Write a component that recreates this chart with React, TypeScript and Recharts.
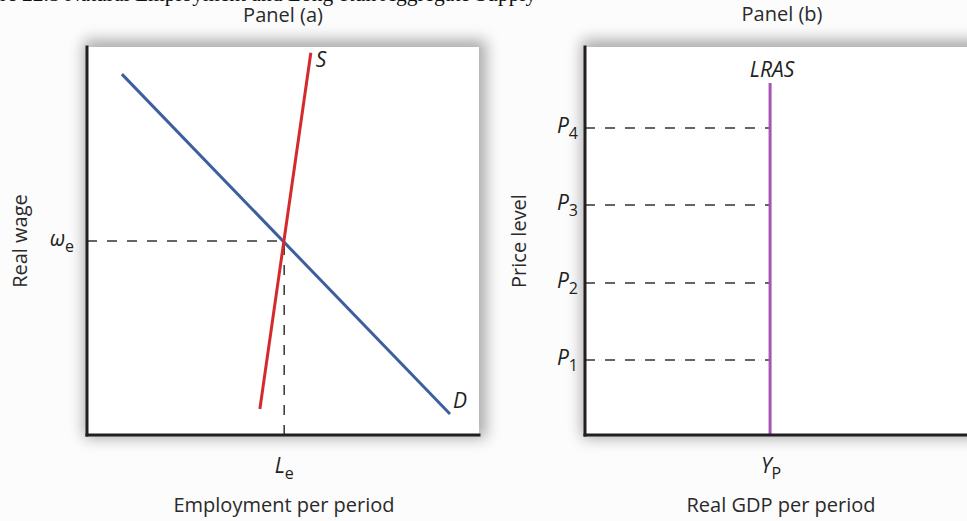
import { LineChart, Line, XAxis, YAxis, ReferenceLine } from 'recharts';

// Panel (a): labour market, values on a 0–100 scale
const demandCurve = [
  { x: 8.9, y: 93.0 },
  { x: 92.6, y: 5.4 },
];
const supplyCurve = [
  { x: 44.1, y: 6.7 },
  { x: 57.1, y: 98.5 },
];
const wageEq = 50;
const employmentEq = 50.3;

// Panel (b): long-run aggregate supply
const priceLevels = [19.3, 39.2, 59.3, 79.1];
const priceSubs = ['1', '2', '3', '4'];
const potentialGdp = 45.7;
const lrasTop = 90.7;
const lrasCurve = [
  { x: potentialGdp, y: 0 },
  { x: potentialGdp, y: lrasTop },
];

const ink = '#231f20';
const sans = '"Open Sans", "Noto Sans", sans-serif';
const axisStyle = { stroke: ink, strokeWidth: 3, strokeLinecap: 'square' as const };
const dashStyle = { stroke: '#333', strokeWidth: 1.5, strokeDasharray: '10 10' };

const curveLabel = (text: string, dx: number, dy: number, anchor: 'start' | 'middle', size: number) =>
  (props: any) => {
    if (props.index !== 1) return <g />;
    return (
      <text
        x={props.x + dx}
        y={props.y + dy}
        textAnchor={anchor}
        fontFamily={sans}
        fontStyle="italic"
        fontSize={size}
        fill={ink}
      >
        {text}
      </text>
    );
  };

const subText = (main: string, sub: string, x: number, y: number, anchor: 'end' | 'middle') => (
  <text x={x} y={y} textAnchor={anchor} fontFamily={sans} fill={ink}>
    <tspan fontSize={21} fontStyle="italic">{main}</tspan>
    <tspan fontSize={16} dy={6}>{sub}</tspan>
  </text>
);

function ShadowBox({ left, width }: { left: number; width: number }) {
  return (
    <div
      style={{
        position: 'absolute',
        left,
        top: 47,
        width,
        height: 388,
        background: '#fff',
        boxShadow: '2px -2px 14px 5px rgba(0,0,0,0.33)',
      }}
    />
  );
}

function Caption({ text, x, top }: { text: string; x: number; top: number }) {
  return (
    <div
      style={{
        position: 'absolute',
        left: x,
        top,
        transform: 'translateX(-50%)',
        fontFamily: sans,
        fontSize: 20,
        lineHeight: '20px',
        color: '#2a2a2a',
        whiteSpace: 'nowrap',
      }}
    >
      {text}
    </div>
  );
}

function SideCaption({ text, x }: { text: string; x: number }) {
  return (
    <div
      style={{
        position: 'absolute',
        left: x,
        top: 241,
        transform: 'translate(-50%, -50%) rotate(-90deg)',
        fontFamily: sans,
        fontSize: 20,
        lineHeight: '20px',
        color: '#2a2a2a',
        whiteSpace: 'nowrap',
      }}
    >
      {text}
    </div>
  );
}

export default function App() {
  return (
    <div
      style={{
        position: 'absolute',
        left: 0,
        top: 0,
        width: 967,
        height: 521,
        overflow: 'hidden',
        background: '#fcfcfc',
      }}
    >
      <div
        style={{
          position: 'absolute',
          left: 0,
          top: -16,
          fontFamily: '"Liberation Serif", serif',
          fontSize: 21.5,
          lineHeight: '21px',
          color: '#111',
          whiteSpace: 'nowrap',
        }}
      >
        re 22.5 Natural Employment and Long-Run Aggregate Supply
      </div>

      <ShadowBox left={87} width={392} />
      <ShadowBox left={585} width={420} />

      <Caption text="Panel (a)" x={283} top={5} />
      <Caption text="Panel (b)" x={782} top={4} />
      <Caption text="Employment per period" x={284} top={495} />
      <Caption text="Real GDP per period" x={781} top={495} />
      <SideCaption text="Real wage" x={20} />
      <SideCaption text="Price level" x={519} />

      <div style={{ position: 'absolute', left: 0, top: 0 }}>
        <LineChart width={490} height={521} margin={{ top: 47, right: 11, bottom: 56, left: 47 }}>
          <XAxis
            type="number"
            dataKey="x"
            domain={[0, 100]}
            allowDataOverflow
            ticks={[employmentEq]}
            tickLine={false}
            tickSize={0}
            tickMargin={0}
            axisLine={axisStyle}
            height={30}
            tick={(p: any) => subText('L', 'e', p.x, p.y + 38, 'middle')}
          />
          <YAxis
            type="number"
            dataKey="y"
            domain={[0, 100]}
            allowDataOverflow
            ticks={[wageEq]}
            tickLine={false}
            tickSize={0}
            tickMargin={0}
            axisLine={axisStyle}
            width={40}
            tick={(p: any) => subText('ω', 'e', p.x - 13, p.y + 5, 'end')}
          />
          <ReferenceLine segment={[{ x: 0, y: wageEq }, { x: employmentEq, y: wageEq }]} {...dashStyle} />
          <ReferenceLine segment={[{ x: employmentEq, y: 0 }, { x: employmentEq, y: wageEq }]} {...dashStyle} />
          <Line
            data={demandCurve}
            dataKey="y"
            stroke="#3d5e9f"
            strokeWidth={3}
            dot={false}
            isAnimationActive={false}
            label={curveLabel('D', 3, -6, 'start', 21)}
          />
          <Line
            data={supplyCurve}
            dataKey="y"
            stroke="#d52a2c"
            strokeWidth={3}
            dot={false}
            isAnimationActive={false}
            label={curveLabel('S', 5, 14, 'start', 21)}
          />
        </LineChart>
      </div>

      <div style={{ position: 'absolute', left: 490, top: 0 }}>
        <LineChart width={500} height={521} margin={{ top: 47, right: 0, bottom: 56, left: 55 }}>
          <XAxis
            type="number"
            dataKey="x"
            domain={[0, 100]}
            allowDataOverflow
            ticks={[potentialGdp]}
            tickLine={false}
            tickSize={0}
            tickMargin={0}
            axisLine={axisStyle}
            height={30}
            tick={(p: any) => subText('Y', 'P', p.x + 1, p.y + 38, 'middle')}
          />
          <YAxis
            type="number"
            dataKey="y"
            domain={[0, 100]}
            allowDataOverflow
            ticks={priceLevels}
            tickLine={false}
            tickSize={0}
            tickMargin={0}
            axisLine={axisStyle}
            width={40}
            tick={(p: any) => subText('P', priceSubs[p.index], p.x - 7, p.y + 5, 'end')}
          />
          {priceLevels.map((p) => (
            <ReferenceLine key={p} segment={[{ x: 0, y: p }, { x: potentialGdp, y: p }]} {...dashStyle} />
          ))}
          <Line
            data={lrasCurve}
            dataKey="y"
            stroke="#a555b4"
            strokeWidth={3}
            dot={false}
            isAnimationActive={false}
            label={curveLabel('LRAS', 2, -6, 'middle', 21)}
          />
        </LineChart>
      </div>
    </div>
  );
}
